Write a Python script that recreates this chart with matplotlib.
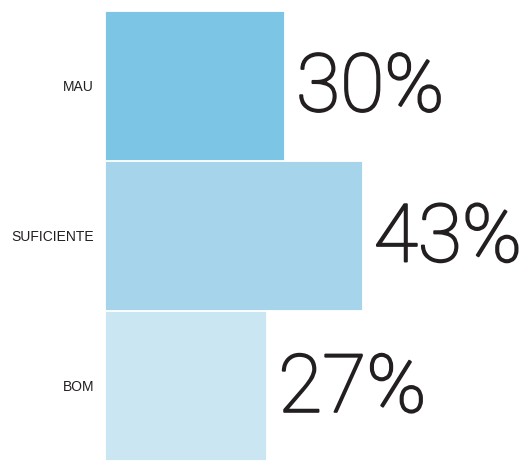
import matplotlib.pyplot as plt
import matplotlib.patheffects as pe

# survey results
categories = ["MAU", "SUFICIENTE", "BOM"]
values = [30, 43, 27]
labels = ["30%", "43%", "27%"]
colors = ["#7dc5e4", "#a6d4ea", "#c9e6f2"]

fig = plt.figure(figsize=(5.29, 4.61), dpi=100)
ax = fig.add_axes([105 / 529, 0, 1 - 105 / 529, 451 / 461])

ypos = range(len(categories))
ax.barh(ypos, values, height=0.99, color=colors, edgecolor="white", linewidth=0.6)

# light face thickened a little with a stroke of the same colour
ink = "#231f20"
for y, v, lab in zip(ypos, values, labels):
    ax.text(v + 2.0, y + 0.025, lab, va="center", ha="left",
            fontsize=58, color=ink, family="Roboto", weight="light",
            path_effects=[pe.withStroke(linewidth=1.4, foreground=ink)])

ax.set_xlim(0, 71)
ax.set_ylim(len(categories) - 0.5, -0.5)
ax.set_yticks(list(ypos))
ax.set_yticklabels(categories, fontsize=10, color=ink, family="Liberation Sans")
ax.tick_params(axis="y", length=0, pad=8)
ax.set_xticks([])
for s in ax.spines.values():
    s.set_visible(False)

plt.savefig("out.png", dpi=100)
